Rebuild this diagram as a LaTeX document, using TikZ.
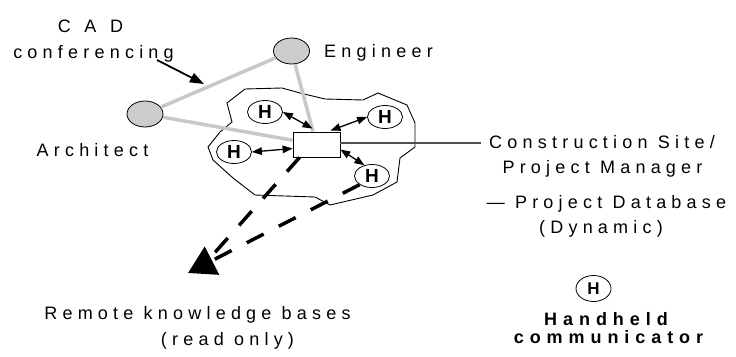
\documentclass[tikz,border=0pt]{standalone}
\usepackage{fontspec}
\setmainfont{Liberation Sans}
\newfontfamily\spc[LetterSpace=29]{Liberation Sans}
\newfontfamily\spcwide[LetterSpace=76]{Liberation Sans}
\newfontfamily\spcb[LetterSpace=33]{Liberation Sans}
\usetikzlibrary{arrows.meta,calc,shapes.geometric}
\definecolor{personfill}{RGB}{204,204,204}
\definecolor{linkgray}{RGB}{200,200,200}
\definecolor{linedark}{RGB}{80,80,80}
\begin{document}
\begin{tikzpicture}[x=1pt,y=-1pt,
  lbl/.style={inner sep=0pt, anchor=base, font=\spc\fontsize{18}{20}\selectfont},
  blbl/.style={inner sep=0pt, anchor=base, font=\spcb\bfseries\fontsize{18}{20}\selectfont},
  person/.style={ellipse, draw=black, line width=0.8pt, fill=personfill, minimum width=36pt, minimum height=26pt, inner sep=0pt},
  hand/.style={ellipse, draw=black, line width=0.8pt, fill=white, minimum width=35pt, minimum height=23pt, inner sep=0pt, font=\bfseries\fontsize{19}{19}\selectfont},
  sitebox/.style={draw=black, line width=0.8pt, fill=white, minimum width=47pt, minimum height=25pt, inner sep=0pt},
  link/.style={draw=linkgray, line width=3.5pt},
  dbl/.style={line width=1.3pt, {Triangle[length=10pt,width=7.5pt]}-{Triangle[length=10pt,width=7.5pt]}},
  remote/.style={line width=3.5pt, dash pattern=on 19pt off 17pt},
  site/.style={draw=black, line width=0.9pt},
]
\useasboundingbox (0,0) rectangle (736,356);

% construction site outline
\draw[site] (245,89) -- (282,88) -- (300,93) -- (325,99) -- (363,100) -- (378,93)
  -- (407,105) -- (415,123) -- (415,147) -- (400,158) -- (397,182) -- (373,195)
  -- (330,205) -- (315,197) -- (255,195) -- (233,178) -- (213,160) -- (208,147)
  -- (220,132) -- (232,122) -- (227,103) -- cycle;

% nodes
\node[person] (eng) at (291.5,51) {};
\node[person] (arch) at (145,114) {};
\node[sitebox] (box) at (316.5,144.5) {};
\node[hand] (h1) at (265,112) {H};
\node[hand] (h2) at (385,117) {H};
\node[hand] (h3) at (234,152) {H};
\node[hand] (h4) at (372,176) {H};
\node[hand, minimum width=35pt, minimum height=26pt, font=\bfseries\fontsize{17}{17}\selectfont] (hleg) at (593.5,288.5) {H};

% texts
\node[lbl, font=\spcwide\fontsize{18}{20}\selectfont] (cad) at (90.5,32) {CAD};
\node[lbl] (conf) at (93.5,58) {conferencing};
\node[lbl] (engl) at (378.5,57) {Engineer};
\node[lbl] (archl) at (92.5,156) {Architect};
\node[lbl] (site1) at (602,148) {Construction Site/};
\node[lbl] (site2) at (602.5,173) {Project Manager};
\node[lbl] (db1) at (606.5,208) {— Project Database};
\node[lbl] (db2) at (601,233) {(Dynamic)};
\node[blbl] (hh1) at (606,325) {Handheld};
\node[blbl] (hh2) at (608.5,343) {communicator};
\node[lbl] (rk1) at (197.5,319) {Remote knowledge bases};
\node[lbl] (rk2) at (227.5,345) {(read only)};

% gray conferencing links
\draw[link] (arch) -- (eng);
\draw[link] (arch) -- (box);
\draw[link] (eng) -- (box);

% CAD conferencing pointer
\coordinate (cadstart) at (157,60);
\coordinate (cadtip) at (204,84);
\draw[line width=1.8pt, -{Triangle[length=14pt,width=10pt]}] (cadstart) -- (cadtip);

% box to label line
\coordinate (siteend) at (481,143);
\draw[draw=linedark, line width=1.2pt] (box.east |- siteend) -- (siteend);

% handheld double arrows
\draw[dbl] (h1.east) -- ([xshift=-4pt,yshift=3pt]box.north);
\draw[dbl] (h2.west) -- ([xshift=14pt,yshift=1pt]box.north);
\draw[dbl] (h3.east) -- ([yshift=-4pt]box.west);
\draw[dbl] (h4.125) -- ([yshift=-5pt]box.east);

% remote knowledge links
\coordinate (rbase) at (210,258);
\coordinate (rtip) at (188,273);
\draw[remote] ([xshift=7pt]box.south west) -- (rbase);
\draw[remote, -{Triangle[length=27pt,width=31pt]}] (h4.215) -- (rtip);
\end{tikzpicture}
\end{document}
